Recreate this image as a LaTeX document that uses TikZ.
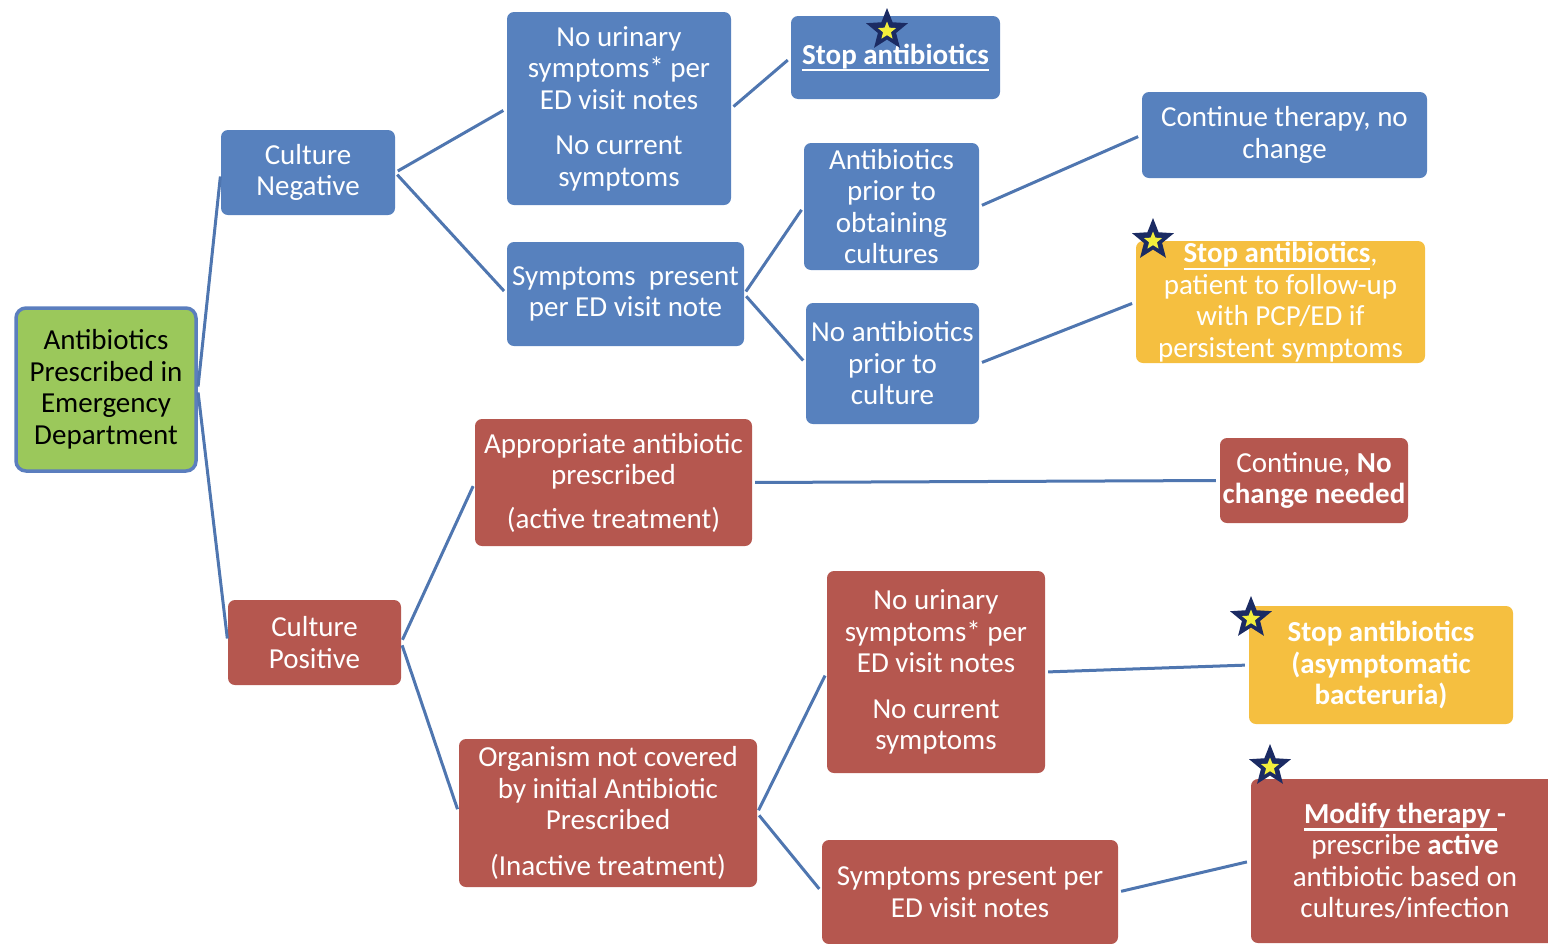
\documentclass[tikz,border=0pt]{standalone}
\usepackage{fontspec}
\setmainfont{Carlito}
\usetikzlibrary{shapes.geometric}
\definecolor{boxblue}{HTML}{5781BE}
\definecolor{boxred}{HTML}{B5574F}
\definecolor{boxyellow}{HTML}{F5BF40}
\definecolor{boxgreen}{HTML}{9BC85B}
\definecolor{rimblue}{HTML}{5B7EBE}
\definecolor{linkblue}{HTML}{4F76B0}
\definecolor{starnavy}{HTML}{1B2B63}
\definecolor{staryellow}{HTML}{F2EE3C}
\newcommand{\thickul}[1]{\leavevmode\vtop{\hbox{#1}\kern0.5pt\hrule height 2.2pt}}

\begin{document}
\begin{tikzpicture}
                        [
                            x=1pt, y=-1pt,
                            box/.style = {shape=rectangle, rounded corners=7pt, inner sep=0pt, align=center, text=white, font=\fontsize{29}{31.5}\selectfont},
                            bluebox/.style = {box, fill=boxblue},
                            redbox/.style = {box, fill=boxred},
                            yellowbox/.style = {box, fill=boxyellow},
                            rootbox/.style = {box, fill=boxgreen, draw=rimblue, line width=3.5pt, rounded corners=10pt, text=black},
                            link/.style = {draw=linkblue, line width=3pt, shorten <=3pt, shorten >=4pt},
                            bigstar/.style = {shape=star, star points=5, star point ratio=2.3, fill=starnavy, minimum size=44pt, inner sep=0pt},
                            smallstar/.style = {shape=star, star points=5, star point ratio=2.3, fill=staryellow, minimum size=19pt, inner sep=0pt},
                        ]

                        \useasboundingbox (0,0) rectangle (1548,943);

                        \node[rootbox, minimum width=180pt, minimum height=163pt] (0) at (106,389.5) {Antibiotics\\ Prescribed in\\ Emergency\\ Department};

                        \node[bluebox, minimum width=174pt, minimum height=85pt] (1a) at (308,172.5) {Culture\\ Negative};
                        \node[redbox, minimum width=173pt, minimum height=85pt] (1b) at (314.5,642.5) {Culture\\ Positive};

                        \node[bluebox, minimum width=224pt, minimum height=193pt] (2a) at (619,108.5) {No urinary\\ symptoms* per\\ ED visit notes\\[14pt] No current\\ symptoms};
                        \node[bluebox, minimum width=237pt, minimum height=104pt] (2b) at (625.5,294) {Symptoms\ \ present\\ per ED visit note};
                        \node[redbox, minimum width=277pt, minimum height=127pt] (2c) at (613.5,482.5) {Appropriate antibiotic\\ prescribed\\[12pt] (active treatment)};
                        \node[redbox, minimum width=298pt, minimum height=148pt] (2d) at (608,813) {Organism not covered\\ by initial Antibiotic\\ Prescribed\\[14pt] (Inactive treatment)};

                        \node[bluebox, minimum width=209pt, minimum height=83pt] (3a) at (895.5,57.5) {\thickul{\textbf{Stop antibiotics}}};
                        \node[bluebox, minimum width=175pt, minimum height=127pt] (3b) at (891.5,206.5) {Antibiotics\\ prior to\\ obtaining\\ cultures};
                        \node[bluebox, minimum width=173pt, minimum height=121pt] (3c) at (892.5,363.5) {No antibiotics\\ prior to\\ culture};
                        \node[redbox, minimum width=188pt, minimum height=85pt] (3d) at (1314,480.5) {Continue, \textbf{No}\\ \textbf{change needed}};
                        \node[redbox, minimum width=218pt, minimum height=202pt] (3e) at (936,672) {No urinary\\ symptoms* per\\ ED visit notes\\[14pt] No current\\ symptoms};
                        \node[redbox, minimum width=296pt, minimum height=104pt] (3f) at (970,892) {Symptoms present per\\ ED visit notes};

                        \node[bluebox, minimum width=285pt, minimum height=86pt] (4a) at (1284.5,135) {Continue therapy, no\\ change};
                        \node[yellowbox, minimum width=289pt, minimum height=122pt] (4b) at (1280.5,302) {\thickul{\textbf{Stop antibiotics}},\\ patient to follow-up\\ with PCP/ED if\\ persistent symptoms};
                        \node[yellowbox, minimum width=264pt, minimum height=118pt] (4c) at (1381,665) {\textbf{Stop antibiotics}\\ \textbf{(asymptomatic}\\ \textbf{bacteruria)}};
                        \node[redbox, minimum width=308pt, minimum height=164pt] (4d) at (1405,861) {\thickul{\textbf{Modify therapy }}\textbf{-}\\ prescribe \textbf{active}\\ antibiotic based on\\ cultures/infection};

                        \node[bigstar] (s1) at (887,30) {};
                        \node[smallstar] (s1y) at (887,31) {};
                        \node[bigstar] (s2) at (1153,240) {};
                        \node[smallstar] (s2y) at (1153,241) {};
                        \node[bigstar] (s3) at (1251,618) {};
                        \node[smallstar] (s3y) at (1251,619) {};
                        \node[bigstar] (s4) at (1270,766) {};
                        \node[smallstar] (s4y) at (1270,767) {};

                        \draw [link] (0.east) -- (1a.west);
                        \draw [link] (0.east) -- (1b.west);

                        \draw [link] (1a.east) -- (2a.west);
                        \draw [link] (1a.east) -- (2b.west);
                        \draw [link] (1b.east) -- (2c.west);
                        \draw [link] (1b.east) -- (2d.west);

                        \draw [link] (2a.east) -- (3a.west);
                        \draw [link] (2b.east) -- (3b.west);
                        \draw [link] (2b.east) -- (3c.west);
                        \draw [link] (2c.east) -- (3d.west);
                        \draw [link] (2d.east) -- (3e.west);
                        \draw [link] (2d.east) -- (3f.west);

                        \draw [link] (3b.east) -- (4a.west);
                        \draw [link] (3c.east) -- (4b.west);
                        \draw [link] (3e.east) -- (4c.west);
                        \draw [link] (3f.east) -- (4d.west);

                    \end{tikzpicture}
\end{document}
